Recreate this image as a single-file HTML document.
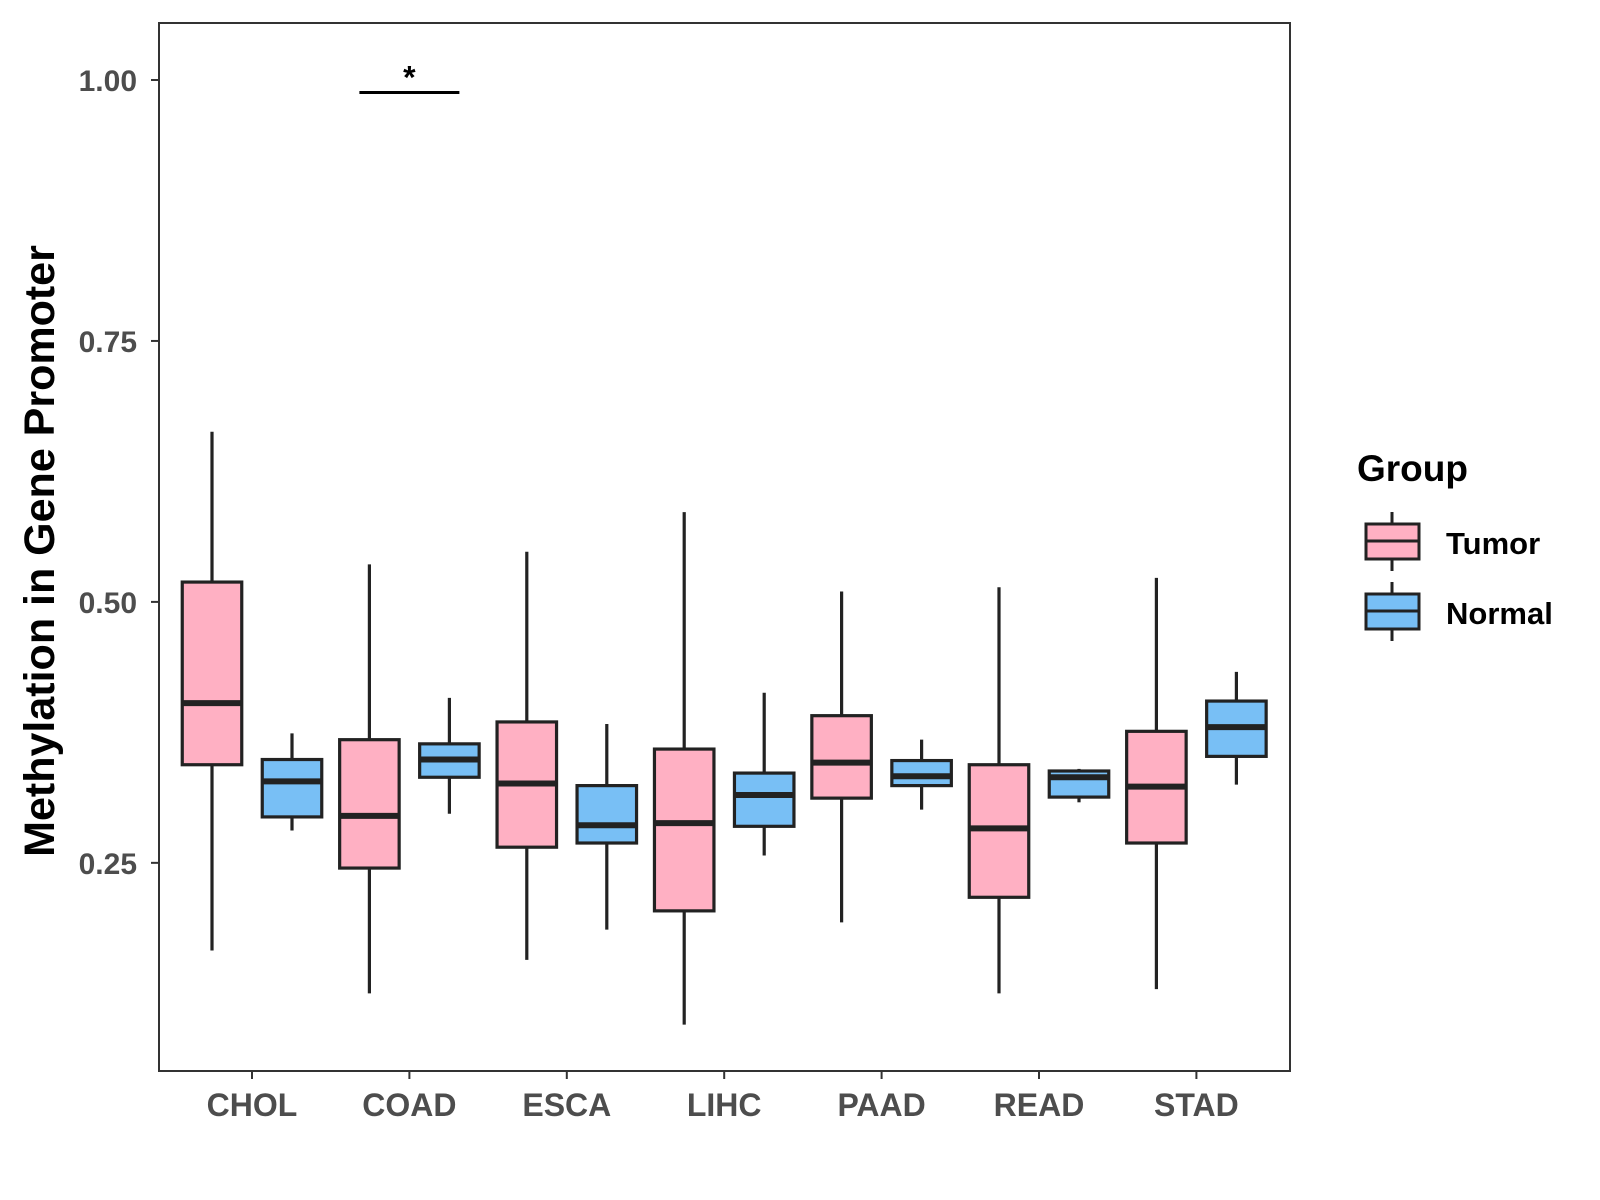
<!DOCTYPE html>
<html><head><meta charset="utf-8"><style>body{margin:0;background:#fff}svg{display:block;font-family:"Liberation Sans",Arial,sans-serif}</style></head>
<body>
<svg id="chart" width="1600" height="1200" viewBox="0 0 1600 1200" xmlns="http://www.w3.org/2000/svg">
<rect x="0" y="0" width="1600" height="1200" fill="#fff"/>
<g id="marks"></g>
<rect x="159" y="23" width="1131" height="1048" fill="none" stroke="#333" stroke-width="2"/>
<text transform="translate(54,551) rotate(-90)" text-anchor="middle" font-size="43" font-weight="bold" fill="#000">Methylation in Gene Promoter</text>
<g transform="translate(-6,-2)">
<text x="1363" y="483" font-size="37" font-weight="bold">Group</text>
<g>
<line x1="1398" y1="514" x2="1398" y2="573" stroke="#222" stroke-width="3"/>
<rect x="1372" y="526" width="53" height="35" fill="#FFB0C3" stroke="#222" stroke-width="3"/>
<line x1="1372" y1="543" x2="1425" y2="543" stroke="#222" stroke-width="3"/>
<text x="1452" y="556" font-size="31" font-weight="bold">Tumor</text></g>
<g>
<line x1="1398" y1="584" x2="1398" y2="643" stroke="#222" stroke-width="3"/>
<rect x="1372" y="596" width="53" height="35" fill="#78BFF5" stroke="#222" stroke-width="3"/>
<line x1="1372" y1="613" x2="1425" y2="613" stroke="#222" stroke-width="3"/>
<text x="1452" y="626" font-size="31" font-weight="bold">Normal</text></g>
</g>
</svg>
<script>
const categories=["CHOL","COAD","ESCA","LIHC","PAAD","READ","STAD"];
const yTicks=[0.25,0.50,0.75,1.00];
const yTickLabels=["0.25","0.50","0.75","1.00"];
// [low, q1, median, q3, high]
const tumorStats=[[0.166,0.344,0.403,0.519,0.663],[0.125,0.245,0.295,0.368,0.536],[0.157,0.265,0.326,0.385,0.548],[0.095,0.204,0.288,0.359,0.586],[0.193,0.312,0.346,0.391,0.510],[0.125,0.217,0.283,0.344,0.514],[0.129,0.269,0.323,0.376,0.523]];
const normalStats=[[0.281,0.294,0.328,0.349,0.374],[0.297,0.332,0.349,0.364,0.408],[0.186,0.269,0.286,0.324,0.383],[0.257,0.285,0.315,0.336,0.413],[0.301,0.324,0.333,0.348,0.368],[0.308,0.313,0.332,0.338,0.340],[0.325,0.352,0.380,0.405,0.433]];
const sigCategory=1, sigY=0.988, sigLabel="*";

const NS="http://www.w3.org/2000/svg";
const y=v=>80+(1-v)*1043.8;
const x=i=>252+i*157.4;
const g=document.getElementById('marks');
function mk(t,a,p){const e=document.createElementNS(NS,t);for(const k in a)e.setAttribute(k,a[k]);(p||g).appendChild(e);return e;}
yTicks.forEach((v,i)=>{
 const tk=mk('line',{x1:151,x2:159,y1:y(v),y2:y(v),stroke:'#333','stroke-width':2});
 
 
 const t=mk('text',{x:137,y:y(v)+11,'text-anchor':'end','font-size':30,'font-weight':'bold',fill:'#4d4d4d'});
 
 
 t.textContent=yTickLabels[i];
});
categories.forEach((c,i)=>{
 const tk=mk('line',{x1:x(i),x2:x(i),y1:1071,y2:1079,stroke:'#333','stroke-width':2});
 
 
 const t=mk('text',{x:x(i),y:1116,'text-anchor':'middle','font-size':32,'font-weight':'bold',fill:'#4d4d4d'});
 
 
 t.textContent=c;
});
function box(s,cx,fill,name){
 const bg=mk('g',{});
 
 
 const w=59.5;
 mk('line',{x1:cx,x2:cx,y1:y(s[4]),y2:y(s[0]),stroke:'#222','stroke-width':3.2},bg);
 mk('rect',{x:cx-w/2,y:y(s[3]),width:w,height:y(s[1])-y(s[3]),fill:fill,stroke:'#222','stroke-width':3.2},bg);
 mk('line',{x1:cx-w/2,x2:cx+w/2,y1:y(s[2]),y2:y(s[2]),stroke:'#222','stroke-width':6},bg);
}
categories.forEach((c,i)=>{
 box(tumorStats[i],x(i)-40,'#FFB0C3','box-tumor-'+c.toLowerCase());
 box(normalStats[i],x(i)+40,'#78BFF5','box-normal-'+c.toLowerCase());
});
const sl=mk('line',{x1:x(sigCategory)-50,x2:x(sigCategory)+50,y1:y(sigY),y2:y(sigY),stroke:'#000','stroke-width':3});


const st=mk('text',{x:x(sigCategory),y:y(sigY)-4,'text-anchor':'middle','font-size':32,'font-weight':'bold'});


st.textContent=sigLabel;
</script>
</body></html>
